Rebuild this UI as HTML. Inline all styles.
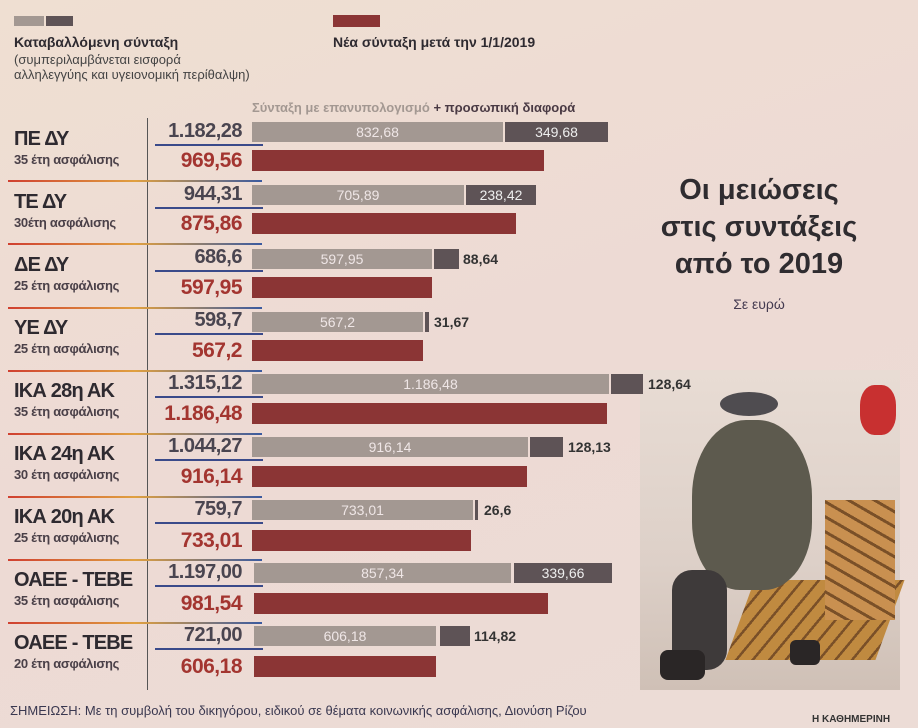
<!DOCTYPE html>
<html><head><meta charset="utf-8"><style>
body{margin:0;width:918px;height:728px;overflow:hidden;background:linear-gradient(160deg,#efdfd2,#eddad4 50%,#ecdcd6);font-family:"Liberation Sans","DejaVu Sans",sans-serif;position:relative}
.a{position:absolute;white-space:nowrap}
.lab{left:14px;font-weight:bold;font-size:20px;color:#2e2a30;letter-spacing:-0.8px}
.sub{left:14px;font-size:13px;font-weight:bold;color:#4a4048;letter-spacing:-0.3px}
.v1{width:242px;text-align:right;font-weight:bold;font-size:20px;color:#4a4550;left:0;letter-spacing:-0.5px}
.v2{width:242px;text-align:right;font-weight:bold;font-size:21px;color:#a33530;left:0;letter-spacing:-0.5px}
.g{background:#a39892;height:20px;color:#efe6e6;font-size:14px;text-align:center;line-height:20px}
.d{background:#5e5356;height:20px;color:#eee;font-size:14px;text-align:center;line-height:20px}
.r{background:#8b3535;height:21px}
.out{font-size:14px;font-weight:bold;color:#333}
.ul{height:2px;background:#3a4a8a;left:155px;width:108px}
.sep{height:2px;background:linear-gradient(90deg,#d04030,#e0a040,#3a5aa0);left:8px;width:254px}
</style></head><body>
<!-- photo -->
<div class="a" style="left:640px;top:370px;width:260px;height:320px;background:linear-gradient(180deg,#e8dcd4,#ddd0c8 60%,#cfc0b6)"></div>
<div class="a" style="left:860px;top:385px;width:36px;height:50px;background:#c83030;border-radius:40%"></div>
<div class="a" style="left:740px;top:580px;width:150px;height:80px;background:repeating-linear-gradient(115deg,#c08a40 0 12px,#7a5028 12px 15px);transform:skewX(-20deg)"></div>
<div class="a" style="left:825px;top:500px;width:70px;height:120px;background:repeating-linear-gradient(30deg,#c99050 0 10px,#7a5028 10px 13px)"></div>
<div class="a" style="left:692px;top:420px;width:120px;height:170px;background:#5d5a4e;border-radius:45% 45% 40% 40%"></div>
<div class="a" style="left:720px;top:392px;width:58px;height:24px;background:#4f4c50;border-radius:50%"></div>
<div class="a" style="left:672px;top:570px;width:55px;height:100px;background:#3e3a3a;border-radius:20px"></div>
<div class="a" style="left:660px;top:650px;width:45px;height:30px;background:#2a2626;border-radius:8px"></div>
<div class="a" style="left:790px;top:640px;width:30px;height:25px;background:#2a2626;border-radius:6px"></div>

<!-- legend -->
<div class="a" style="left:14px;top:16px;width:30px;height:10px;background:#a39892"></div>
<div class="a" style="left:46px;top:16px;width:27px;height:10px;background:#5e5356"></div>
<div class="a" style="left:333px;top:15px;width:47px;height:12px;background:#8b3535"></div>
<div class="a" style="left:14px;top:34px;font-size:14px;font-weight:bold;color:#2e2a30">Καταβαλλόμενη σύνταξη</div>
<div class="a" style="left:14px;top:52px;font-size:13px;color:#444;line-height:15px">(συμπεριλαμβάνεται εισφορά<br>αλληλεγγύης και υγειονομική περίθαλψη)</div>
<div class="a" style="left:333px;top:34px;font-size:14px;font-weight:bold;color:#2e2a30">Νέα σύνταξη μετά την 1/1/2019</div>
<div class="a" style="left:252px;top:100px;font-size:13px;font-weight:bold;color:#a39892">Σύνταξη με επανυπολογισμό <span style="color:#4a3a44">+ προσωπική διαφορά</span></div>
<div class="a" style="left:147px;top:118px;width:1px;height:572px;background:#555"></div>

<!-- title -->
<div class="a" style="left:600px;top:172px;width:318px;text-align:center;font-size:29px;font-weight:bold;color:#2f2c30;line-height:37px">Οι μειώσεις<br>στις συντάξεις<br>από το 2019</div>
<div class="a" style="left:600px;top:296px;width:318px;text-align:center;font-size:14px;color:#443a50">Σε ευρώ</div>

<!-- rows -->
<div class="a lab" style="top:128px">ΠΕ ΔΥ</div><div class="a sub" style="top:152px">35 έτη ασφάλισης</div>
<div class="a v1" style="top:120px">1.182,28</div><div class="a ul" style="top:144px"></div>
<div class="a g" style="left:252px;top:122px;width:251px">832,68</div><div class="a d" style="left:505px;top:122px;width:103px">349,68</div>
<div class="a v2" style="top:149px">969,56</div><div class="a r" style="left:252px;top:150px;width:292px"></div>
<div class="a sep" style="top:180px"></div>

<div class="a lab" style="top:191px">ΤΕ ΔΥ</div><div class="a sub" style="top:215px">30έτη ασφάλισης</div>
<div class="a v1" style="top:183px">944,31</div><div class="a ul" style="top:207px"></div>
<div class="a g" style="left:252px;top:185px;width:212px">705,89</div><div class="a d" style="left:466px;top:185px;width:70px">238,42</div>
<div class="a v2" style="top:212px">875,86</div><div class="a r" style="left:252px;top:213px;width:264px"></div>
<div class="a sep" style="top:243px"></div>

<div class="a lab" style="top:254px">ΔΕ ΔΥ</div><div class="a sub" style="top:278px">25 έτη ασφάλισης</div>
<div class="a v1" style="top:246px">686,6</div><div class="a ul" style="top:270px"></div>
<div class="a g" style="left:252px;top:249px;width:180px">597,95</div><div class="a d" style="left:434px;top:249px;width:25px"></div><div class="a out" style="left:463px;top:251px">88,64</div>
<div class="a v2" style="top:276px">597,95</div><div class="a r" style="left:252px;top:277px;width:180px"></div>
<div class="a sep" style="top:307px"></div>

<div class="a lab" style="top:317px">ΥΕ ΔΥ</div><div class="a sub" style="top:341px">25 έτη ασφάλισης</div>
<div class="a v1" style="top:309px">598,7</div><div class="a ul" style="top:333px"></div>
<div class="a g" style="left:252px;top:312px;width:171px">567,2</div><div class="a d" style="left:425px;top:312px;width:4px"></div><div class="a out" style="left:434px;top:314px">31,67</div>
<div class="a v2" style="top:339px">567,2</div><div class="a r" style="left:252px;top:340px;width:171px"></div>
<div class="a sep" style="top:370px"></div>

<div class="a lab" style="top:380px">ΙΚΑ 28η ΑΚ</div><div class="a sub" style="top:404px">35 έτη ασφάλισης</div>
<div class="a v1" style="top:372px">1.315,12</div><div class="a ul" style="top:396px"></div>
<div class="a g" style="left:252px;top:374px;width:357px">1.186,48</div><div class="a d" style="left:611px;top:374px;width:32px"></div><div class="a out" style="left:648px;top:376px">128,64</div>
<div class="a v2" style="top:402px">1.186,48</div><div class="a r" style="left:252px;top:403px;width:355px"></div>
<div class="a sep" style="top:433px"></div>

<div class="a lab" style="top:443px">ΙΚΑ 24η ΑΚ</div><div class="a sub" style="top:467px">30 έτη ασφάλισης</div>
<div class="a v1" style="top:435px">1.044,27</div><div class="a ul" style="top:459px"></div>
<div class="a g" style="left:252px;top:437px;width:276px">916,14</div><div class="a d" style="left:530px;top:437px;width:33px"></div><div class="a out" style="left:568px;top:439px">128,13</div>
<div class="a v2" style="top:465px">916,14</div><div class="a r" style="left:252px;top:466px;width:275px"></div>
<div class="a sep" style="top:496px"></div>

<div class="a lab" style="top:506px">ΙΚΑ 20η ΑΚ</div><div class="a sub" style="top:530px">25 έτη ασφάλισης</div>
<div class="a v1" style="top:498px">759,7</div><div class="a ul" style="top:522px"></div>
<div class="a g" style="left:252px;top:500px;width:221px">733,01</div><div class="a d" style="left:475px;top:500px;width:3px"></div><div class="a out" style="left:484px;top:502px">26,6</div>
<div class="a v2" style="top:529px">733,01</div><div class="a r" style="left:252px;top:530px;width:219px"></div>
<div class="a sep" style="top:559px"></div>

<div class="a lab" style="top:569px">ΟΑΕΕ - ΤΕΒΕ</div><div class="a sub" style="top:593px">35 έτη ασφάλισης</div>
<div class="a v1" style="top:561px">1.197,00</div><div class="a ul" style="top:585px"></div>
<div class="a g" style="left:254px;top:563px;width:257px">857,34</div><div class="a d" style="left:514px;top:563px;width:98px">339,66</div>
<div class="a v2" style="top:592px">981,54</div><div class="a r" style="left:254px;top:593px;width:294px"></div>
<div class="a sep" style="top:622px"></div>

<div class="a lab" style="top:632px">ΟΑΕΕ - ΤΕΒΕ</div><div class="a sub" style="top:656px">20 έτη ασφάλισης</div>
<div class="a v1" style="top:624px">721,00</div><div class="a ul" style="top:648px"></div>
<div class="a g" style="left:254px;top:626px;width:182px">606,18</div><div class="a d" style="left:440px;top:626px;width:30px"></div><div class="a out" style="left:474px;top:628px">114,82</div>
<div class="a v2" style="top:655px">606,18</div><div class="a r" style="left:254px;top:656px;width:182px"></div>

<div class="a" style="left:10px;top:703px;font-size:13px;color:#3a3850">ΣΗΜΕΙΩΣΗ: Με τη συμβολή του δικηγόρου, ειδικού σε θέματα κοινωνικής ασφάλισης, Διονύση Ρίζου</div>
<div class="a" style="left:812px;top:714px;font-size:10px;font-weight:bold;color:#333">Η ΚΑΘΗΜΕΡΙΝΗ</div>
</body></html>
